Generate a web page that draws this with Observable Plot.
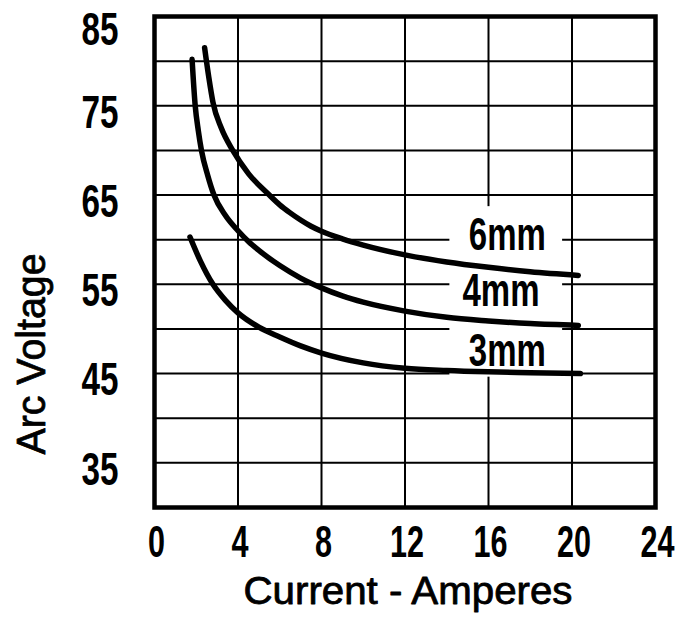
<!DOCTYPE html>
<html>
<head>
<meta charset="utf-8">
<script src="https://cdn.jsdelivr.net/npm/d3@7"></script>
<script src="https://cdn.jsdelivr.net/npm/@observablehq/plot@0.6"></script>
<style>
  html, body { margin: 0; padding: 0; background: #fff; }
  #chart { width: 685px; height: 621px; }
</style>
</head>
<body>
<div id="chart"></div>
<script>
// ---- Data ----
const xTicks = [0, 4, 8, 12, 16, 20, 24];
const yTicks = [35, 45, 55, 65, 75, 85];
const xGrid = [4, 8, 12, 16, 20];
const yGrid = [35, 40, 45, 50, 55, 60, 65, 70, 75, 80];
const xTitle = "Current - Amperes";
const yTitle = "Arc Voltage";

const current6mm = [2.4, 2.6, 2.8, 3.2, 3.75, 4.5, 5.5, 6, 6.5, 7, 7.5, 8, 9, 10, 12, 14, 16, 18, 20.3];
const voltage6mm = [81.5, 78.2, 75.4, 72.5, 70, 67.4, 65, 63.9, 63.0, 62.2, 61.5, 60.95, 60.1, 59.4, 58.3, 57.5, 56.9, 56.4, 56.0];

const current4mm = [1.8, 1.95, 2.1, 2.25, 2.55, 2.85, 3.4, 4, 4.5, 5, 6, 7, 8, 9, 10, 12, 14, 16, 18, 20.3];
const voltage4mm = [80.2, 75, 72.2, 70, 67.2, 65, 62.7, 61.0, 59.8, 58.8, 57.1, 55.7, 54.6, 53.7, 53.0, 52.0, 51.3, 50.9, 50.6, 50.4];

const current3mm = [1.7, 2.2, 2.8, 3.4, 4, 5, 6, 7, 8, 10, 12, 14, 16, 18, 20.4];
const voltage3mm = [60.3, 57.6, 55, 53.2, 51.8, 50.2, 49.1, 48.1, 47.3, 46.2, 45.6, 45.35, 45.2, 45.1, 45.0];

const seriesNames = ["6mm", "4mm", "3mm"];
const labelCurrent = [16.9, 16.6, 16.9];
const labelVoltage = [60.5, 54.2, 47.5];

// white panel behind the series labels (in data units)
const panelCurrent = [14.15, 19.55];
const panelVoltage = [44.6, 63.7];

// ---- Build tables ----
const curves = [
  ...current6mm.map((c, i) => ({series: "6mm", current: c, voltage: voltage6mm[i]})),
  ...current4mm.map((c, i) => ({series: "4mm", current: c, voltage: voltage4mm[i]})),
  ...current3mm.map((c, i) => ({series: "3mm", current: c, voltage: voltage3mm[i]}))
];
const labels = seriesNames.map((s, i) => ({name: s, current: labelCurrent[i], voltage: labelVoltage[i]}));
const panel = [{x1: panelCurrent[0], x2: panelCurrent[1], y1: panelVoltage[0], y2: panelVoltage[1]}];
const yTop = d3.max(yTicks);

const FONT = "'Liberation Sans', Arial, sans-serif";

const chart = Plot.plot({
  width: 685,
  height: 621,
  marginLeft: 154,
  marginRight: 30,
  marginTop: 16,
  marginBottom: 114,
  style: {fontFamily: FONT, fontSize: "46px", color: "black", background: "white", overflow: "visible"},
  x: {domain: [0, 24], axis: null},
  y: {domain: [30, 85], axis: null},
  marks: [
    Plot.ruleX(xGrid, {x: d => d, stroke: "black", strokeWidth: 2}),
    Plot.ruleY(yGrid, {y: d => d, stroke: "black", strokeWidth: 2}),
    Plot.rect(panel, {x1: "x1", x2: "x2", y1: "y1", y2: "y2", fill: "white"}),
    Plot.text(labels, {x: "current", y: "voltage", text: "name", fontSize: 46, fontWeight: "bold", fill: "black"}),
    Plot.line(curves, {x: "current", y: "voltage", z: "series", stroke: "black", strokeWidth: 5.5, curve: "monotone-x", strokeLinecap: "round"}),
    Plot.frame({stroke: "black", strokeWidth: 4.5}),
    // tick labels
    Plot.text(xTicks, {x: d => d, frameAnchor: "bottom", lineAnchor: "top", dy: 18, dx: 2, text: d => String(d), fontSize: 44, fontWeight: "bold", fill: "black"}),
    Plot.text(yTicks.filter(d => d !== yTop), {y: d => d, frameAnchor: "left", textAnchor: "end", dx: -36, dy: 7, text: d => String(d), fontSize: 46, fontWeight: "bold", fill: "black"}),
    Plot.text(yTicks.filter(d => d === yTop), {y: d => d, frameAnchor: "left", textAnchor: "end", dx: -36, dy: 14, text: d => String(d), fontSize: 46, fontWeight: "bold", fill: "black"}),
    // axis titles
    Plot.text([xTitle], {frameAnchor: "bottom", textAnchor: "middle", lineAnchor: "middle", dy: 84, dx: 3, text: d => d, fontSize: 38, fill: "black", stroke: "black", strokeWidth: 0.8}),
    Plot.text([yTitle], {frameAnchor: "left", textAnchor: "middle", lineAnchor: "middle", rotate: -90, dx: -123, dy: 92, text: d => d, fontSize: 41, fill: "black", stroke: "black", strokeWidth: 0.8})
  ]
});

document.getElementById("chart").appendChild(chart);

// condensed lettering like the original
chart.querySelectorAll("text").forEach(t => {
  const s = t.textContent;
  let len = null;
  if (/^\d+$/.test(s)) len = s.length * (yTicks.includes(+s) ? 18.5 : 17);
  else if (seriesNames.includes(s)) len = 77;
  else if (s === xTitle) len = 329;
  else if (s === yTitle) len = 201;
  if (len) {
    t.setAttribute("textLength", len);
    t.setAttribute("lengthAdjust", "spacingAndGlyphs");
  }
});
</script>
</body>
</html>
